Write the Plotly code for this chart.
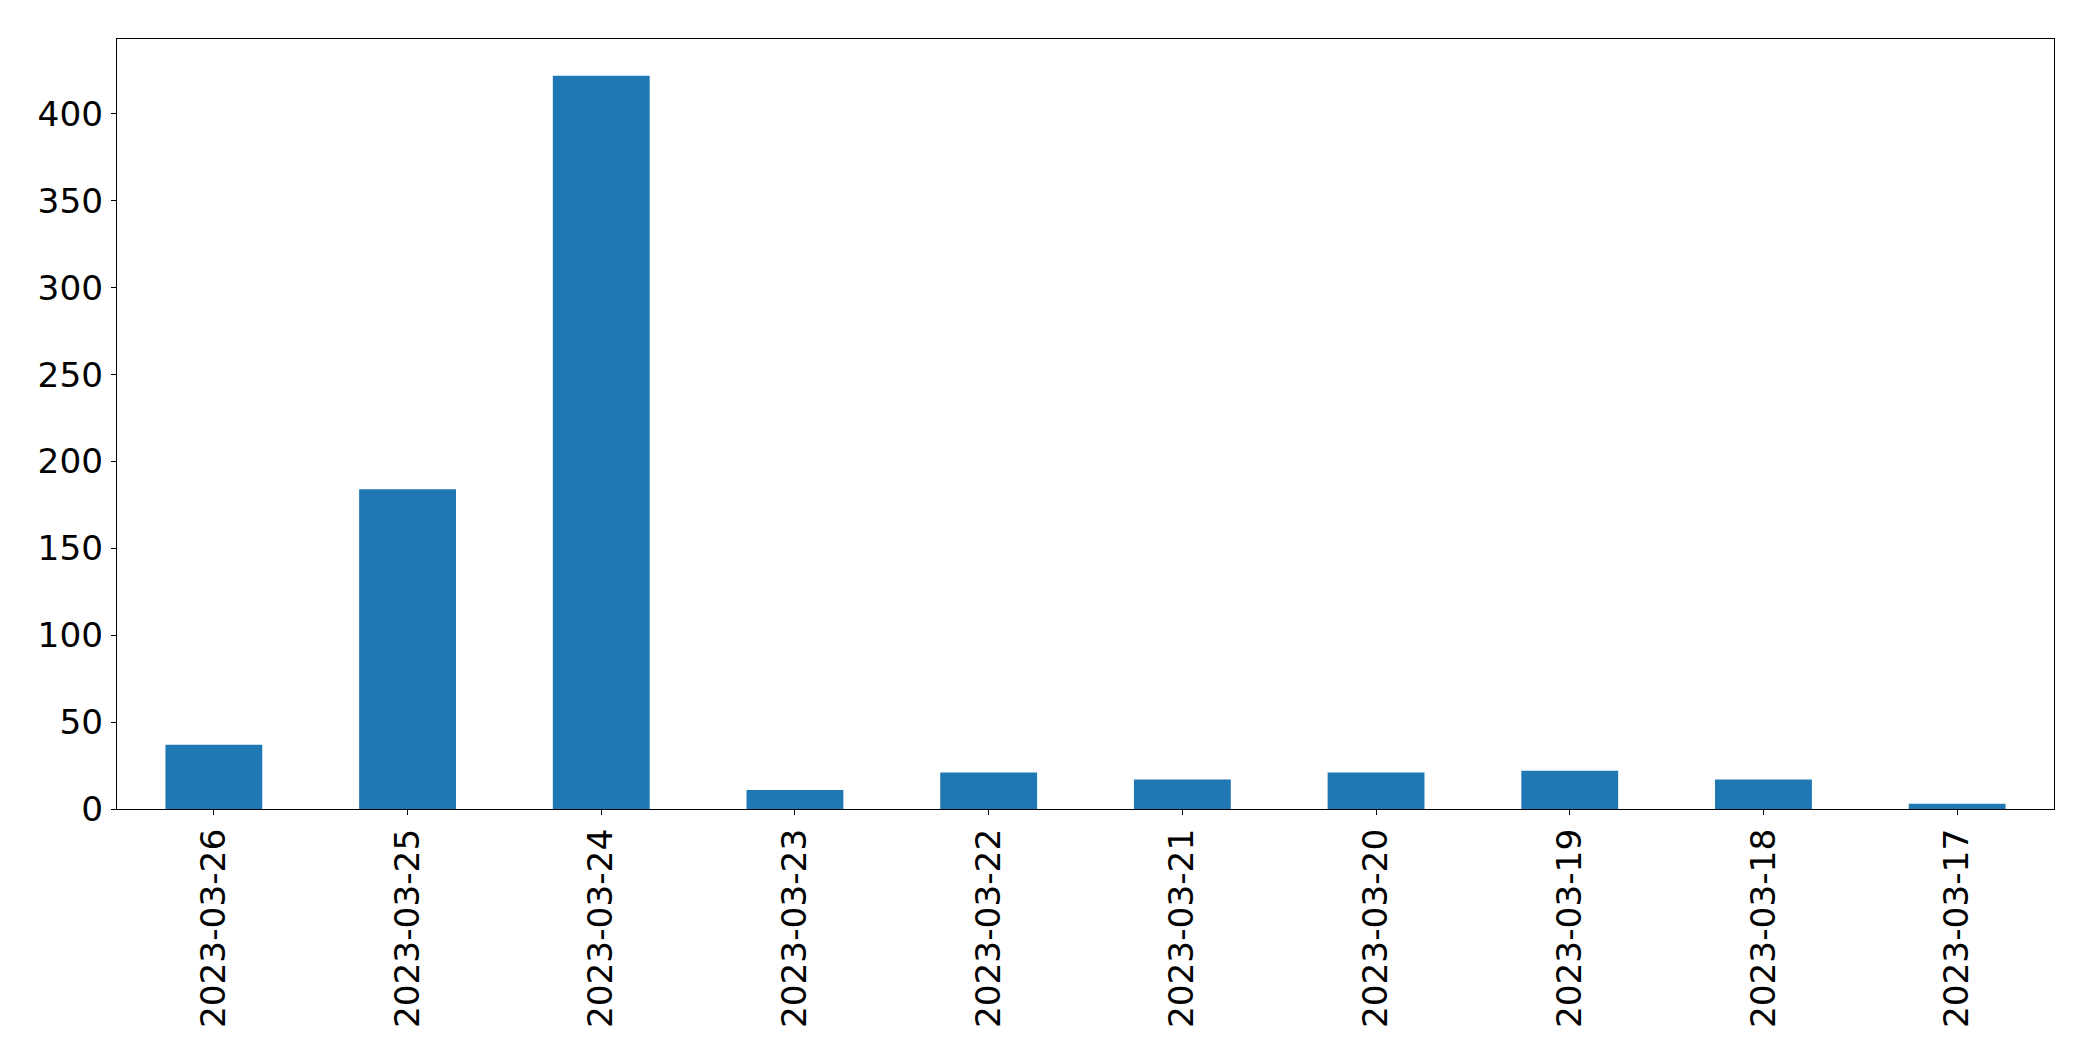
import plotly.graph_objects as go

dates = ["2023-03-26", "2023-03-25", "2023-03-24", "2023-03-23", "2023-03-22",
         "2023-03-21", "2023-03-20", "2023-03-19", "2023-03-18", "2023-03-17"]
counts = [37, 184, 422, 11, 21, 17, 21, 22, 17, 3]
y_ticks = [0, 50, 100, 150, 200, 250, 300, 350, 400]

fig = go.Figure(go.Bar(x=dates, y=counts, marker=dict(color="#1f77b4", line=dict(width=0)),
                       width=0.5))

font = dict(family="DejaVu Sans", size=34.3, color="black")
# the page body adds an 8px offset; margins compensate so the plot area lands
# at x 117..2054, y 39..809 in the window
fig.update_layout(
    width=2077, height=1045,
    margin=dict(l=109, r=31, t=31, b=244, pad=0),
    paper_bgcolor="white", plot_bgcolor="white",
    showlegend=False,
    font=font,
    xaxis=dict(type="category", range=[-0.5, 9.5], tickangle=-90,
               showline=True, linecolor="black", linewidth=1.1, mirror=True,
               ticks="outside", ticklen=5, tickwidth=1.1, tickcolor="black",
               showgrid=False, zeroline=False, tickfont=font, ticklabelstandoff=0),
    yaxis=dict(range=[0, max(counts) * 1.05], tickvals=y_ticks,
               showline=True, linecolor="black", linewidth=1.1, mirror=True,
               ticks="outside", ticklen=5, tickwidth=1.1, tickcolor="black",
               showgrid=False, zeroline=False, tickfont=font, ticklabelstandoff=1),
)

fig.write_html("out.html")
